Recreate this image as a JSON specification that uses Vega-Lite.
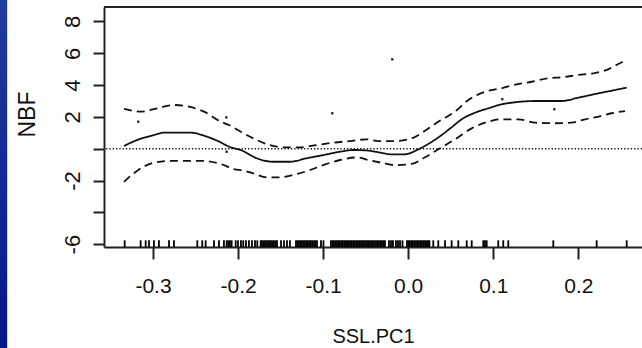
{
  "$schema": "https://vega.github.io/schema/vega-lite/v6.json",
  "width": 538,
  "height": 240,
  "autosize": {"type": "none"},
  "padding": {"left": 104, "top": 7, "right": 0, "bottom": 101},
  "background": "white",
  "config": {"view": {"stroke": null}, "font": "Liberation Sans",
    "axisX": {"tickSize": 12, "tickWidth": 2, "tickColor": "#222", "domainColor": "#222", "domainWidth": 2,
      "labelFontSize": 21, "labelColor": "#111", "labelPadding": 16, "labelFlush": false, "labelOverlap": false,
      "titleFontSize": 20, "titleFontWeight": "normal", "titleColor": "#111",
      "titleX": 269, "titleY": 95, "titleBaseline": "alphabetic", "titleAlign": "center", "grid": false},
    "axisY": {"labelAngle": -90, "labelAlign": "center", "labelBaseline": "bottom", "labelPadding": 9,
      "labelFontSize": 22, "labelColor": "#111", "labelFlush": false, "labelOverlap": false, "labelBound": false,
      "tickSize": 11, "tickWidth": 2, "tickColor": "#222", "domainColor": "#222", "domainWidth": 2,
      "titleFontSize": 23, "titleFontWeight": "normal", "titleColor": "#111",
      "titleAngle": -90, "titleX": -70, "titleY": 107, "titleBaseline": "alphabetic", "titleAlign": "center", "grid": false}
  },
  "datasets": {
    "curves": [
      {"s":"fit","x":-0.3341,"y":0.17},{"s":"fit","x":-0.3185,"y":0.55},{"s":"fit","x":-0.2989,"y":0.86},{"s":"fit","x":-0.2871,"y":1.01},{"s":"fit","x":-0.2557,"y":1.01},{"s":"fit","x":-0.2401,"y":0.82},{"s":"fit","x":-0.2244,"y":0.5},{"s":"fit","x":-0.2087,"y":0.09},{"s":"fit","x":-0.1969,"y":-0.08},{"s":"fit","x":-0.1781,"y":-0.6},{"s":"fit","x":-0.1586,"y":-0.82},{"s":"fit","x":-0.139,"y":-0.82},{"s":"fit","x":-0.1193,"y":-0.6},{"s":"fit","x":-0.0998,"y":-0.4},{"s":"fit","x":-0.0802,"y":-0.19},{"s":"fit","x":-0.0645,"y":-0.08},{"s":"fit","x":-0.0488,"y":-0.11},{"s":"fit","x":-0.0332,"y":-0.24},{"s":"fit","x":-0.0194,"y":-0.36},{"s":"fit","x":-0.0038,"y":-0.35},{"s":"fit","x":0.0119,"y":-0.04},{"s":"fit","x":0.0236,"y":0.3},{"s":"fit","x":0.0394,"y":0.86},{"s":"fit","x":0.0511,"y":1.35},{"s":"fit","x":0.0629,"y":1.85},{"s":"fit","x":0.0785,"y":2.26},{"s":"fit","x":0.0942,"y":2.54},{"s":"fit","x":0.1099,"y":2.79},{"s":"fit","x":0.1256,"y":2.92},{"s":"fit","x":0.15,"y":3.0},{"s":"fit","x":0.1805,"y":3.0},{"s":"fit","x":0.2,"y":3.21},{"s":"fit","x":0.2235,"y":3.48},{"s":"fit","x":0.2431,"y":3.69},{"s":"fit","x":0.2569,"y":3.84},
      {"s":"upper","x":-0.3341,"y":2.5},{"s":"upper","x":-0.3145,"y":2.33},{"s":"upper","x":-0.295,"y":2.54},{"s":"upper","x":-0.2753,"y":2.75},{"s":"upper","x":-0.2577,"y":2.64},{"s":"upper","x":-0.2401,"y":2.33},{"s":"upper","x":-0.2204,"y":1.7},{"s":"upper","x":-0.2107,"y":1.49},{"s":"upper","x":-0.1969,"y":1.07},{"s":"upper","x":-0.1781,"y":0.55},{"s":"upper","x":-0.1625,"y":0.23},{"s":"upper","x":-0.1468,"y":0.09},{"s":"upper","x":-0.1272,"y":0.09},{"s":"upper","x":-0.1076,"y":0.23},{"s":"upper","x":-0.0881,"y":0.38},{"s":"upper","x":-0.0684,"y":0.48},{"s":"upper","x":-0.0488,"y":0.59},{"s":"upper","x":-0.0352,"y":0.48},{"s":"upper","x":-0.0155,"y":0.48},{"s":"upper","x":0.0041,"y":0.65},{"s":"upper","x":0.0198,"y":1.13},{"s":"upper","x":0.0354,"y":1.7},{"s":"upper","x":0.055,"y":2.33},{"s":"upper","x":0.0707,"y":3.06},{"s":"upper","x":0.0903,"y":3.58},{"s":"upper","x":0.1099,"y":3.8},{"s":"upper","x":0.1276,"y":4.05},{"s":"upper","x":0.1452,"y":4.21},{"s":"upper","x":0.1647,"y":4.43},{"s":"upper","x":0.1805,"y":4.49},{"s":"upper","x":0.2,"y":4.64},{"s":"upper","x":0.2176,"y":4.74},{"s":"upper","x":0.2352,"y":4.99},{"s":"upper","x":0.247,"y":5.33},{"s":"upper","x":0.2549,"y":5.53},
      {"s":"lower","x":-0.3341,"y":-2.08},{"s":"lower","x":-0.3185,"y":-1.38},{"s":"lower","x":-0.2989,"y":-0.88},{"s":"lower","x":-0.2792,"y":-0.77},{"s":"lower","x":-0.2401,"y":-0.77},{"s":"lower","x":-0.2204,"y":-0.96},{"s":"lower","x":-0.2048,"y":-1.28},{"s":"lower","x":-0.1939,"y":-1.37},{"s":"lower","x":-0.1821,"y":-1.55},{"s":"lower","x":-0.1664,"y":-1.8},{"s":"lower","x":-0.1507,"y":-1.8},{"s":"lower","x":-0.1351,"y":-1.65},{"s":"lower","x":-0.1154,"y":-1.34},{"s":"lower","x":-0.0998,"y":-1.03},{"s":"lower","x":-0.0802,"y":-0.71},{"s":"lower","x":-0.0605,"y":-0.55},{"s":"lower","x":-0.0449,"y":-0.74},{"s":"lower","x":-0.0296,"y":-0.9},{"s":"lower","x":-0.0155,"y":-1.03},{"s":"lower","x":0.0041,"y":-0.96},{"s":"lower","x":0.0198,"y":-0.54},{"s":"lower","x":0.0354,"y":-0.04},{"s":"lower","x":0.055,"y":0.59},{"s":"lower","x":0.0747,"y":1.28},{"s":"lower","x":0.0942,"y":1.7},{"s":"lower","x":0.1099,"y":1.85},{"s":"lower","x":0.1294,"y":1.85},{"s":"lower","x":0.1491,"y":1.64},{"s":"lower","x":0.1726,"y":1.6},{"s":"lower","x":0.1922,"y":1.64},{"s":"lower","x":0.2078,"y":1.85},{"s":"lower","x":0.2196,"y":1.97},{"s":"lower","x":0.2392,"y":2.23},{"s":"lower","x":0.2549,"y":2.37}
    ],
    "points": [
      {"x":-0.0187,"y":5.62},{"x":-0.0892,"y":2.23},{"x":-0.3173,"y":1.7},{"x":0.1106,"y":3.11},{"x":0.1718,"y":2.48},{"x":-0.2138,"y":1.97},{"x":-0.2134,"y":-0.19}
    ],
    "rug": [
      {"x":-0.3333},{"x":-0.3145},{"x":-0.3086},{"x":-0.3047},{"x":-0.2989},{"x":-0.293},{"x":-0.2812},{"x":-0.2753},{"x":-0.2479},{"x":-0.2421},{"x":-0.2381},{"x":-0.2283},{"x":-0.2224},{"x":-0.2166},{"x":-0.2134},{"x":-0.2115},{"x":-0.2095},{"x":-0.2075},{"x":-0.2028},{"x":-0.2001},{"x":-0.1966},{"x":-0.1939},{"x":-0.1907},{"x":-0.1872},{"x":-0.1836},{"x":-0.1801},{"x":-0.1774},
      {"x":-0.1734},{"x":-0.1719},{"x":-0.1701},{"x":-0.1684},{"x":-0.1666},{"x":-0.1648},{"x":-0.1631},{"x":-0.1613},{"x":-0.1595},{"x":-0.1578},{"x":-0.156},{"x":-0.1542},{"x":-0.1495},{"x":-0.146},{"x":-0.1425},{"x":-0.139},
      {"x":-0.1319},{"x":-0.1301},{"x":-0.1284},{"x":-0.1266},{"x":-0.1249},{"x":-0.1231},{"x":-0.1213},{"x":-0.1196},{"x":-0.1178},{"x":-0.116},{"x":-0.1143},{"x":-0.1125},{"x":-0.1107},{"x":-0.109},{"x":-0.1072},{"x":-0.1025},{"x":-0.0996},
      {"x":-0.0908},{"x":-0.089},{"x":-0.0873},{"x":-0.0855},{"x":-0.0837},{"x":-0.082},{"x":-0.0802},{"x":-0.0784},{"x":-0.0767},{"x":-0.0749},{"x":-0.0731},{"x":-0.0714},{"x":-0.0696},{"x":-0.0678},{"x":-0.0661},{"x":-0.0643},{"x":-0.0626},{"x":-0.0608},{"x":-0.059},{"x":-0.0573},{"x":-0.0555},{"x":-0.0537},{"x":-0.052},{"x":-0.0502},{"x":-0.0484},{"x":-0.0467},{"x":-0.0449},{"x":-0.0431},{"x":-0.0414},{"x":-0.0396},{"x":-0.0378},{"x":-0.0361},{"x":-0.0343},{"x":-0.0326},{"x":-0.0308},{"x":-0.029},
      {"x":-0.0273},{"x":-0.0226},{"x":-0.0202},{"x":-0.0179},{"x":-0.0144},{"x":-0.012},{"x":-0.0096},{"x":-0.0067},
      {"x":-0.0014},{"x":0.0004},{"x":0.0021},{"x":0.0039},{"x":0.0056},{"x":0.0074},{"x":0.0092},{"x":0.0109},{"x":0.0127},{"x":0.0145},{"x":0.0162},{"x":0.018},{"x":0.0198},{"x":0.0215},{"x":0.0233},{"x":0.025},
      {"x":0.0295},{"x":0.0354},{"x":0.0433},{"x":0.0511},{"x":0.0589},{"x":0.0688},{"x":0.0747},{"x":0.0883},{"x":0.0903},{"x":0.0923},{"x":0.1059},{"x":0.1118},{"x":0.1177},{"x":0.1706},{"x":0.2216},{"x":0.2569}
    ]
  },
  "layer": [
    {
      "data": {"name": "curves"},
      "mark": {"type": "line", "interpolate": "monotone", "strokeWidth": 1.8, "color": "#111"},
      "encoding": {
        "x": {"field": "x", "type": "quantitative", "title": "SSL.PC1",
          "scale": {"domain": [-0.3576, 0.2749], "nice": false, "zero": false},
          "axis": {"values": [-0.3, -0.2, -0.1, 0, 0.1, 0.2], "labelExpr": "replace(format(datum.value,'.1f'),'\u2212','-')", "labelOverlap": false}},
        "y": {"field": "y", "type": "quantitative", "title": "NBF",
          "scale": {"domain": [-6.18, 8.91], "nice": false, "zero": false},
          "axis": {"values": [-6, -4, -2, 0, 2, 4, 6, 8], "labelExpr": "datum.value==0||datum.value==-4?'':replace(datum.label,'\u2212','-')", "labelOverlap": false}},
        "strokeDash": {"field": "s", "type": "nominal",
          "scale": {"domain": ["fit", "upper", "lower"], "range": [[1, 0], [8, 5], [8, 5]]}, "legend": null}
      }
    },
    {
      "data": {"values": [{}]},
      "mark": {"type": "rect", "clip": false, "color": {"gradient": "linear", "x1": 0, "y1": 0, "x2": 0, "y2": 1, "stops": [{"offset": 0, "color": "#1f3d9e"}, {"offset": 1, "color": "#06168a"}]}},
      "encoding": {
        "x": {"datum": -0.49, "type": "quantitative", "title": "SSL.PC1",
          "axis": {"values": [-0.3, -0.2, -0.1, 0, 0.1, 0.2], "labelExpr": "replace(format(datum.value,'.1f'),'\u2212','-')", "labelOverlap": false}},
        "x2": {"datum": -0.4714},
        "y": {"datum": 9.4, "type": "quantitative", "title": "NBF",
          "axis": {"values": [-6, -4, -2, 0, 2, 4, 6, 8], "labelExpr": "datum.value==0||datum.value==-4?'':replace(datum.label,'\u2212','-')", "labelOverlap": false}},
        "y2": {"datum": -12.7}
      }
    },
    {
      "data": {"values": [{}]},
      "mark": {"type": "rule", "strokeDash": [1.3, 2], "strokeWidth": 1.5, "color": "#111"},
      "encoding": {"y": {"datum": 0, "type": "quantitative", "title": "NBF",
          "axis": {"values": [-6, -4, -2, 0, 2, 4, 6, 8], "labelExpr": "datum.value==0||datum.value==-4?'':replace(datum.label,'\u2212','-')", "labelOverlap": false}}}
    },
    {
      "data": {"values": [{}]},
      "mark": {"type": "rule", "strokeWidth": 2, "color": "#222"},
      "encoding": {"y": {"datum": 8.91, "type": "quantitative", "title": "NBF",
          "axis": {"values": [-6, -4, -2, 0, 2, 4, 6, 8], "labelExpr": "datum.value==0||datum.value==-4?'':replace(datum.label,'\u2212','-')", "labelOverlap": false}}}
    },
    {
      "data": {"name": "rug"},
      "mark": {"type": "rule", "strokeWidth": 1.8, "color": "#000"},
      "encoding": {
        "x": {"field": "x", "type": "quantitative", "title": "SSL.PC1",
          "axis": {"values": [-0.3, -0.2, -0.1, 0, 0.1, 0.2], "labelExpr": "replace(format(datum.value,'.1f'),'\u2212','-')", "labelOverlap": false}},
        "y": {"datum": -6.18, "type": "quantitative", "title": "NBF",
          "axis": {"values": [-6, -4, -2, 0, 2, 4, 6, 8], "labelExpr": "datum.value==0||datum.value==-4?'':replace(datum.label,'\u2212','-')", "labelOverlap": false}},
        "y2": {"datum": -5.76}
      }
    },
    {
      "data": {"name": "points"},
      "mark": {"type": "square", "size": 5, "filled": true, "color": "#111", "opacity": 1},
      "encoding": {
        "x": {"field": "x", "type": "quantitative", "title": "SSL.PC1",
          "axis": {"values": [-0.3, -0.2, -0.1, 0, 0.1, 0.2], "labelExpr": "replace(format(datum.value,'.1f'),'\u2212','-')", "labelOverlap": false}},
        "y": {"field": "y", "type": "quantitative", "title": "NBF",
          "axis": {"values": [-6, -4, -2, 0, 2, 4, 6, 8], "labelExpr": "datum.value==0||datum.value==-4?'':replace(datum.label,'\u2212','-')", "labelOverlap": false}}
      }
    }
  ]
}
